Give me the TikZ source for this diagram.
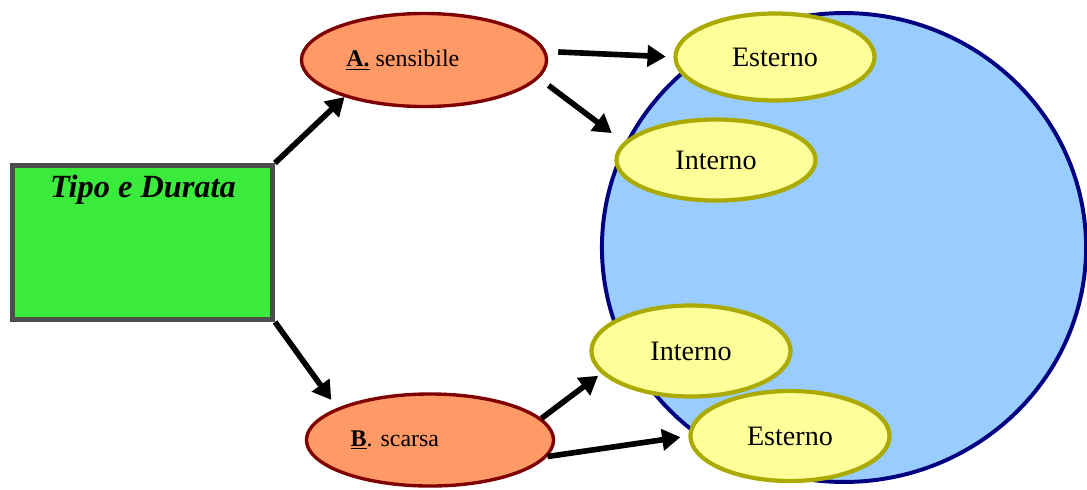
\documentclass[tikz,border=0pt]{standalone}
\usepackage{fontspec}
\setmainfont{Liberation Serif}
\usetikzlibrary{arrows.meta,shapes.geometric}

\definecolor{verde}{HTML}{3BEB3B}
\definecolor{grigio}{HTML}{4D4D4D}
\definecolor{salmone}{HTML}{FF9966}
\definecolor{rossoscuro}{HTML}{800000}
\definecolor{giallino}{HTML}{FFFF99}
\definecolor{oliva}{HTML}{AAAA00}
\definecolor{celeste}{HTML}{99CCFF}
\definecolor{blunotte}{HTML}{000080}

\tikzset{
  freccia/.style={line width=4pt,-{Triangle[length=13pt,width=15pt]}},
  caso/.style={ellipse,draw=rossoscuro,fill=salmone,line width=2.4pt,inner sep=0pt,
    font=\fontsize{17}{20}\selectfont},
  esito/.style={ellipse,draw=oliva,fill=giallino,line width=3pt,inner sep=0pt,
    minimum width=4.975cm,font=\fontsize{20}{24}\selectfont},
}

\begin{document}
\begin{tikzpicture}[x=0.025cm,y=-0.025cm]

% page size of the reference (pixels)
\useasboundingbox (0,0) rectangle (1087,489);

% big circle behind the outcomes
\draw[fill=celeste,draw=blunotte,line width=2.8pt] (844,247.5) ellipse [x radius=6.05cm,y radius=5.86cm];

% starting box
\node[draw=grigio,fill=verde,line width=3.5pt,minimum width=6.5cm,minimum height=3.85cm,inner sep=0pt] (tipo) at (142.5,242.5) {};
\node (titolo) at (143,190) {\fontsize{23}{27}\selectfont\bfseries\itshape Tipo e Durata};

% the two cases
\node[caso,minimum width=6.125cm,minimum height=2.325cm] (sens) at (424,60) {\underline{\textbf{A.}} sensibile\hspace*{30pt}};
\node[caso,minimum width=6.175cm,minimum height=2.3cm] (scar) at (430,440) {\underline{\textbf{B}}. scarsa\hspace*{50pt}};

% outcomes
\node[esito,minimum height=2.175cm] (est1) at (775,57) {Esterno};
\node[esito,minimum height=2.025cm] (int1) at (716,160) {Interno};
\node[esito,minimum height=2.275cm] (int2) at (691,351) {Interno};
\node[esito,minimum height=2.25cm] (est2) at (790,436) {Esterno};

% arrows
\draw[freccia] (tipo.north east) -- (sens.205);
\draw[freccia,shorten >=0.25cm] (tipo.south east) -- (scar.161);

\draw[freccia,shorten <=0.3cm,shorten >=0.19cm] (sens.4) -- (est1.west);
\draw[freccia,shorten <=0.3cm,shorten >=0.375cm] (sens.-9) -- (int1.169);

\draw[freccia,shorten >=0.1cm] (scar.11) -- (int2.194);
\draw[freccia,shorten >=0.2cm] (scar.-8) -- (est2.west);

\end{tikzpicture}
\end{document}
